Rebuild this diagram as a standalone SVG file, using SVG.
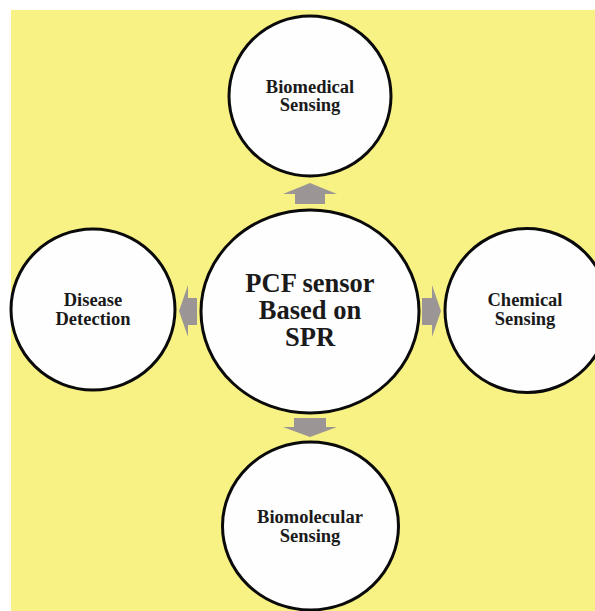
<svg xmlns="http://www.w3.org/2000/svg" width="595" height="611" viewBox="0 0 595 611">
<style>
.node{fill:#fefefe;stroke:#0a0a0a;stroke-width:3}
.lbl{font-family:"Liberation Serif","Times New Roman",serif;font-weight:bold;fill:#1a1a1a;text-anchor:middle}
.s{font-size:18.5px}
.b{font-size:26.5px}
.arr{fill:#9b9695}
</style>
<rect x="0" y="0" width="595" height="611" fill="#ffffff"/>
<rect x="11" y="10" width="584" height="601" fill="#f8f184"/>
<g id="connectors">
<polygon class="arr" points="295,204 295,194 283,194 310,183 337,194 325,194 325,204"/>
<polygon class="arr" points="294,418 326,418 326,427 337,427 310,437 283,427 294,427"/>
<polygon class="arr" points="197,298 197,325 188,325 188,337 179,311 188,285 188,298"/>
<polygon class="arr" points="422,298 432,298 432,285 441,311 432,337 432,325 422,325"/>
</g>
<g id="biomedical">
<ellipse class="node" cx="310" cy="96" rx="81" ry="80"/>
<text class="lbl s" x="310" y="93">Biomedical</text>
<text class="lbl s" x="310" y="111">Sensing</text>
</g>
<g id="center">
<ellipse class="node" cx="310" cy="311.5" rx="109" ry="101.5"/>
<text class="lbl b" x="310" y="292">PCF sensor</text>
<text class="lbl b" x="310" y="319">Based on</text>
<text class="lbl b" x="310" y="346">SPR</text>
</g>
<g id="disease">
<ellipse class="node" cx="93" cy="309.5" rx="82" ry="80.5"/>
<text class="lbl s" x="93" y="306">Disease</text>
<text class="lbl s" x="93" y="325">Detection</text>
</g>
<g id="chemical">
<ellipse class="node" cx="527" cy="310.5" rx="82" ry="82"/>
<text class="lbl s" x="525" y="306">Chemical</text>
<text class="lbl s" x="525" y="325">Sensing</text>
</g>
<g id="biomolecular">
<ellipse class="node" cx="310.5" cy="526" rx="88" ry="84"/>
<text class="lbl s" x="310" y="523">Biomolecular</text>
<text class="lbl s" x="310" y="542">Sensing</text>
</g>
</svg>
